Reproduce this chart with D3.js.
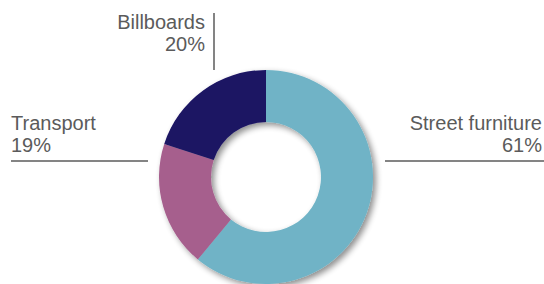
<!DOCTYPE html>
<meta charset="utf-8">
<html>
<script src="https://d3js.org/d3.v7.min.js"></script>
<body style="margin:0;background:#fff;">
<style>
    .lbl {
        font-family: "Liberation Sans", Arial, sans-serif;
        font-size: 20px;
        fill: #5b5b5b;
    }
    .leader {
        stroke: #5b5b5b;
        stroke-width: 1.5;
    }
</style>
<div id="chart"></div>
<script>
    // data
    var categories = ["Street furniture", "Transport", "Billboards"];
    var shares = [61, 19, 20];
    var colors = ["#70b3c6", "#a65f8d", "#1b1464"];

    var width = 544, height = 284;
    var cx = 266, cy = 177, outerR = 107, innerR = 55;

    var svg = d3.select("#chart").append("svg")
        .attr("width", width)
        .attr("height", height);

    //drop shadow
    var defs = svg.append("defs");
    var f = defs.append("filter").attr("id", "shadow")
        .attr("x", "-20%").attr("y", "-20%").attr("width", "140%").attr("height", "140%");
    f.append("feGaussianBlur").attr("in", "SourceAlpha").attr("stdDeviation", 3);
    f.append("feOffset").attr("dx", 3).attr("dy", 3).attr("result", "ob");
    f.append("feComponentTransfer").append("feFuncA").attr("type", "linear").attr("slope", 0.45);
    var merge = f.append("feMerge");
    merge.append("feMergeNode");
    merge.append("feMergeNode").attr("in", "SourceGraphic");

    var data = categories.map(function(c, i) { return {name: c, value: shares[i], color: colors[i]}; });

    var pie = d3.pie().sort(null).value(function(d) { return d.value; });
    var arc = d3.arc().innerRadius(innerR).outerRadius(outerR);

    var g = svg.append("g")
        .attr("transform", "translate(" + cx + "," + cy + ")")
        .attr("filter", "url(#shadow)");

    g.selectAll("path")
        .data(pie(data))
        .enter().append("path")
        .attr("d", arc)
        .attr("fill", function(d) { return d.data.color; });

    // label layout (placement only)
    var layout = {
        "Street furniture": {x: 542, y: 130, anchor: "end", line: [385, 161, 544, 161]},
        "Transport": {x: 11, y: 130, anchor: "start", line: [11, 161, 148, 161]},
        "Billboards": {x: 205, y: 29, anchor: "end", line: [214, 13, 214, 70]}
    };

    data.forEach(function(d) {
        var L = layout[d.name];
        svg.append("line")
            .attr("class", "leader")
            .attr("x1", L.line[0]).attr("y1", L.line[1])
            .attr("x2", L.line[2]).attr("y2", L.line[3]);
        var t = svg.append("text")
            .attr("class", "lbl")
            .attr("text-anchor", L.anchor)
            .attr("x", L.x)
            .attr("y", L.y);
        t.append("tspan").attr("x", L.x).text(d.name);
        t.append("tspan").attr("x", L.x).attr("dy", 22).text(d.value + "%");
    });
</script>
</body>
</html>
